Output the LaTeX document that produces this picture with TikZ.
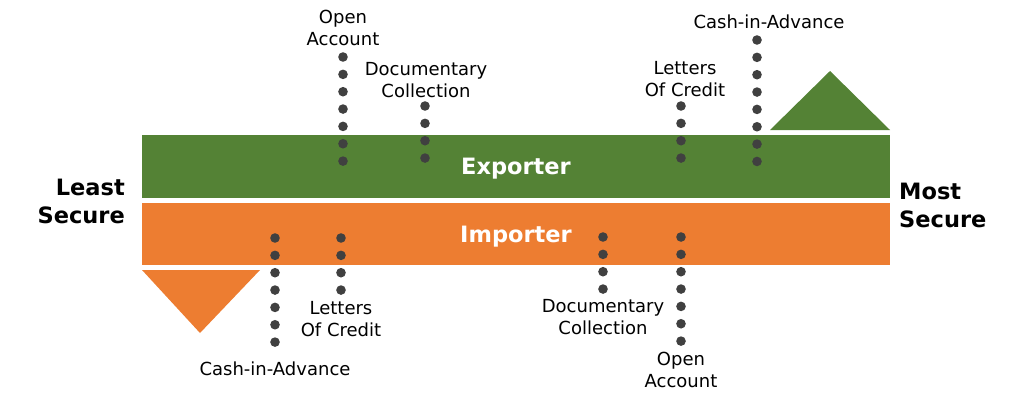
\documentclass[tikz,border=0pt]{standalone}
\usepackage{fontspec}
\setmainfont{DejaVu Sans}
\definecolor{expgreen}{HTML}{548235}
\definecolor{imporange}{HTML}{ED7D31}
\definecolor{dotgrey}{HTML}{404040}
\begin{document}
\begin{tikzpicture}[x=1pt,y=-1pt,
  lbl/.style={font=\fontsize{18}{21.5}\selectfont, align=center, text=black, inner sep=0pt},
  side/.style={font=\fontsize{22.5}{28}\selectfont\bfseries, text=black, inner sep=0pt},
  bartext/.style={font=\fontsize{22.5}{26}\selectfont\bfseries, text=white, inner sep=0pt},
  dot/.style={fill=dotgrey}]
\useasboundingbox (0,0) rectangle (1024,402);
% bars
\fill[expgreen] (142,135) rectangle (890,198);
\fill[imporange] (142,203) rectangle (890,265);
\node[bartext] (exp) at (516,169) {Exporter};
\node[bartext] (imp) at (516,237) {Importer};
% triangles
\fill[expgreen] (770,130) -- (830,71) -- (890,130) -- cycle;
\fill[imporange] (142,270) -- (260,270) -- (200,333) -- cycle;
% side labels
\node[side, align=right, anchor=east] (least) at (125,201) {Least\\Secure};
\node[side, align=left, anchor=west] (most) at (899,205) {Most\\Secure};
% dot columns: x, first y, count
\foreach \x/\y/\n in {343/57/7, 425/106/4, 681/106/4, 757/40/8,
                      275/238/7, 341/238/4, 603/237/4, 681/237/7}{
  \foreach \i in {1,...,\n}{
    \fill[dot] (\x,{\y+17.35*(\i-1)}) circle[radius=4.8pt];
  }
}
% exporter labels
\node[lbl] (eoa) at (343,28) {Open\\Account};
\node[lbl] (edc) at (426,80) {Documentary\\Collection};
\node[lbl] (elc) at (685,79) {Letters\\Of Credit};
\node[lbl] (eca) at (769,22) {Cash-in-Advance};
% importer labels
\node[lbl] (ilc) at (341,319) {Letters\\Of Credit};
\node[lbl] (ica) at (275,369) {Cash-in-Advance};
\node[lbl] (idc) at (603,317) {Documentary\\Collection};
\node[lbl] (ioa) at (681,370) {Open\\Account};
\end{tikzpicture}
\end{document}
